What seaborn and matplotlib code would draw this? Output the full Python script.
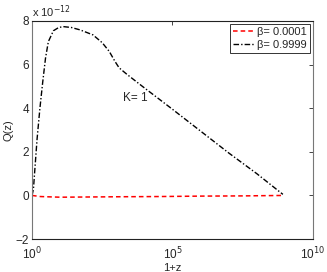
import numpy as np
import pandas as pd
import matplotlib
matplotlib.use("Agg")
import matplotlib.pyplot as plt
import seaborn as sns

# ─── Data (x in decades of 1+z, y in 1e-12) ───
log_z_black = [0.0, 0.05, 0.1, 0.18, 0.28, 0.38, 0.48, 0.58, 0.76, 0.95, 1.11,
               1.4, 1.71, 2.17, 2.5, 2.75, 2.95, 3.1, 3.38, 3.95, 5.0, 6.0,
               7.0, 8.0, 8.93]
q_black = [0.0, 0.3, 1.2, 2.6, 4.0, 5.2, 6.3, 7.05, 7.55, 7.7, 7.74,
           7.7, 7.59, 7.36, 7.0, 6.6, 6.15, 5.85, 5.55, 4.98, 3.95, 2.95,
           1.95, 1.0, 0.05]

log_z_red = [0.0, 0.3, 1.0, 2.0, 3.0, 4.5, 6.0, 7.5, 8.93]
q_red = [0.0, -0.05, -0.08, -0.07, -0.06, -0.05, -0.03, -0.02, 0.0]

labels = ["β= 0.0001", "β= 0.9999"]

sns.set_style("white")
plt.rcParams.update({
    "font.family": ["Liberation Sans", "DejaVu Sans"],
    "font.size": 8,
    "xtick.direction": "in",
    "ytick.direction": "in",
    "axes.edgecolor": "#222222",
    "axes.linewidth": 0.8,
})

red = pd.DataFrame({"z1": np.power(10.0, log_z_red), "Q": q_red})
black = pd.DataFrame({"z1": np.power(10.0, log_z_black), "Q": q_black})

fig = plt.figure(figsize=(3.27, 2.72), dpi=100)
ax = fig.add_axes([0.098, 0.121, 0.859, 0.802])

sns.lineplot(data=red, x="z1", y="Q", ax=ax, color="red", linewidth=1.1,
             linestyle=(0, (3, 2)), label=labels[0], sort=False)
sns.lineplot(data=black, x="z1", y="Q", ax=ax, color="black", linewidth=1.0,
             linestyle=(0, (4, 1.5, 1, 1.5)), label=labels[1], sort=False)

ax.set_xscale("log")
ax.set_xlim(1, 1e10)
ax.set_ylim(-2, 8)
ax.set_xticks([1, 1e5, 1e10])
ax.set_xticklabels([r"10$^{0}$", r"10$^{5}$", r"10$^{10}$"])
ax.xaxis.set_minor_locator(matplotlib.ticker.NullLocator())
ax.set_yticks([-2, 0, 2, 4, 6, 8])
ax.tick_params(length=3, width=0.6, top=True, right=True, pad=2, labelsize=8.5)
ax.tick_params(axis="x", pad=5)
for s in ax.spines.values():
    s.set_visible(True)
ax.spines["left"].set_color("#777777")
ax.spines["right"].set_color("#777777")

ax.set_xlabel("1+z", fontsize=8, labelpad=0)
ax.set_ylabel("Q(z)", fontsize=8, labelpad=2)
ax.text(0.0, 1.005, r"x 10$^{-12}$", transform=ax.transAxes, fontsize=8,
        ha="left", va="bottom")
ax.text(10 ** 3.24, 4.47, "K= 1", fontsize=8.5, ha="left", va="center")

leg = ax.legend(loc="upper right", frameon=True, fancybox=False, fontsize=8,
                handlelength=2.0, handletextpad=0.2, borderpad=0.25,
                labelspacing=0.3, borderaxespad=0.3)
leg.get_frame().set_edgecolor("black")
leg.get_frame().set_linewidth(0.7)

fig.savefig("out.png", dpi=100)
